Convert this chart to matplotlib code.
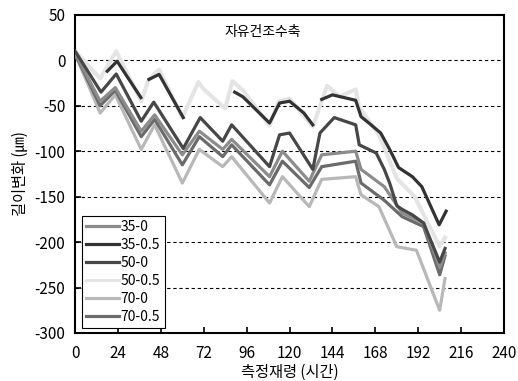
import numpy as np
import matplotlib
matplotlib.use("Agg")
import matplotlib.pyplot as plt

plt.rcParams['font.family'] = ['Noto Sans CJK KR', 'DejaVu Sans']
plt.rcParams['axes.unicode_minus'] = False

nan = np.nan

# series: (hours, length change in um)
x_50_05 = [0, 14, 23, 37, 41, 47, 60, 69, 72, 84, 88, 94, 108.8, 114, 120, 133, 141, 148, 157, 159, 170, 180, 190, 204, 207]
y_50_05 = [10, -20, 10, -45, -22, -10, -63, -24, -32, -53, -23, -33, -72, -45, -42, -73, -28, -40, -32, -52, -82, -130, -150, -205, -195]

x_35_05 = [18, 23.5, 36.8, nan, 41.3, 47, 60.5, nan, 89.3, 93.8, 108.8, 114.4, 120, 128, 133, nan, 138, 144, 157, 160, 165, 171, 176, 181, 188.7, 194, 203.7, 207.6]
y_35_05 = [-12, -1, -41, nan, -21, -15.5, -63, nan, -35, -40, -69, -47, -45, -58, -71, nan, -43, -38, -44, -62, -70, -80, -98, -118, -128, -139, -181, -166]

x_50_0 = [0, 14.5, 23, 37, 44, 60.5, 70, 82.6, 87.6, 108.8, 114.4, 120, 133, 137, 145, 157, 159, 168.5, 173, 176, 180, 183, 188.7, 195, 204, 207]
y_50_0 = [10, -35, -15, -67, -46, -97, -63, -89, -71, -117, -82, -80, -120, -80, -63, -71, -93, -102, -120, -135, -160, -164, -170, -179, -222, -207]

x_low = [0, 14, 22.5, 37, 44.5, 60, 69.5, 82.6, 87.6, 108.8, 116, 131, 138, 157, 160, 173, 183, 195, 204, 207]
y_35_0 = [8, -45, -30, -78, -60, -104, -78, -98, -87, -128, -100, -133, -104, -100, -120, -139, -168, -179, -228, -212]
y_70_05 = [7, -50, -33, -84, -65, -115, -84, -106, -93, -137, -111, -140, -117, -111, -135, -154, -172, -183, -236, -215]

x_70_0 = [0, 14, 22.5, 37, 44.5, 60, 69.5, 82.6, 87.6, 108.8, 116, 131, 138, 157, 160, 170, 180, 191, 204, 207]
y_70_0 = [7, -58, -38, -98, -71, -135, -98, -117, -106, -157, -128, -161, -131, -128, -148, -161, -205, -209, -275, -240]

x_ticks = list(range(0, 241, 24))
y_ticks = list(range(-300, 51, 50))

fig = plt.figure(figsize=(5.18, 3.81), dpi=100)
ax = fig.add_axes([0.145, 0.126, 0.828, 0.835])

for yv in y_ticks[1:-1]:
    ax.axhline(yv, color='black', lw=0.8, ls=(0, (3, 2.5)), zorder=1)

lw = 2.3
ax.plot(x_50_05, y_50_05, color='#e4e4e4', lw=lw + 0.6, zorder=2)
ax.plot(x_70_0, y_70_0, color='#b8b8b8', lw=lw, zorder=3)
ax.plot(x_low, y_70_05, color='#6b6b6b', lw=lw, zorder=4)
ax.plot(x_low, y_35_0, color='#8c8c8c', lw=lw, zorder=5)
ax.plot(x_50_0, y_50_0, color='#474747', lw=lw, zorder=6)
ax.plot(x_35_05, y_35_05, color='#333333', lw=lw, zorder=7)

# legend handles in legend order
names = ['35-0', '35-0.5', '50-0', '50-0.5', '70-0', '70-0.5']
cols = ['#8c8c8c', '#333333', '#474747', '#e4e4e4', '#b8b8b8', '#6b6b6b']
handles = [plt.Line2D([], [], color=c, lw=lw) for c in cols]
leg = ax.legend(handles, names, loc='lower left', bbox_to_anchor=(0.016, 0.016),
                borderaxespad=0, fontsize=10, handlelength=2.4, handletextpad=0.1,
                labelspacing=0.28, borderpad=0.3, fancybox=False, framealpha=1)
leg.get_frame().set_edgecolor('black')
leg.get_frame().set_linewidth(0.8)

ax.text(105, 31, '자유건조수축', fontsize=10, ha='center', va='center')

ax.set_xlim(0, 240)
ax.set_ylim(-300, 50)
ax.set_xticks(x_ticks)
ax.set_yticks(y_ticks)
ax.tick_params(direction='in', length=4, width=1.2, labelsize=11)
ax.tick_params(axis='x', pad=9)
ax.tick_params(axis='y', pad=7)
for s in ax.spines.values():
    s.set_linewidth(1.5)

ax.set_xlabel('측정재령 (시간)', fontsize=11, labelpad=1)
ax.set_ylabel('길이변화 (㎛)', fontsize=11, labelpad=4)

fig.savefig('out.png', dpi=100)
